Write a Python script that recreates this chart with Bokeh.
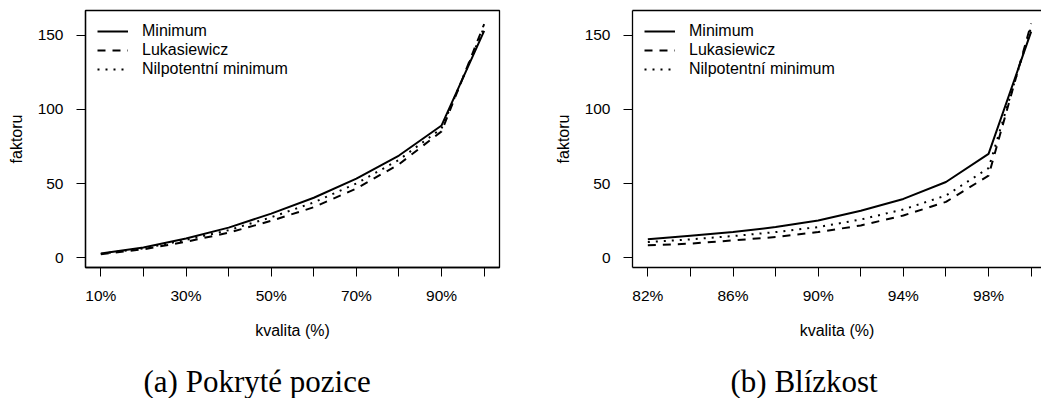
from bokeh.plotting import figure
from bokeh.layouts import row
from bokeh.models import Range1d, FixedTicker, LinearAxis, Legend, LegendItem, Title
from bokeh.embed import file_html
from bokeh.resources import INLINE

# ---------------- data ----------------
# panel (a) Pokryté pozice
xa = [10, 20, 30, 40, 50, 60, 70, 80, 90, 100]
a_minimum = [2.8, 6.8, 12.9, 20.2, 29.7, 40.4, 53.3, 68.9, 89.2, 153.0]
a_lukasiewicz = [2.2, 5.6, 10.7, 16.8, 24.8, 34.0, 46.6, 63.0, 85.2, 157.6]
a_nilpotent = [2.5, 6.2, 11.9, 18.5, 27.2, 37.2, 50.0, 66.0, 87.2, 155.5]
xa_ticks = [10, 20, 30, 40, 50, 60, 70, 80, 90, 100]
xa_ticklabels = ["10%", "", "30%", "", "50%", "", "70%", "", "90%", ""]

# panel (b) Blízkost
xb = [82, 84, 86, 88, 90, 92, 94, 96, 98, 100]
b_minimum = [12.3, 14.8, 17.2, 20.6, 25.0, 31.6, 39.6, 51.0, 70.0, 152.5]
b_lukasiewicz = [8.3, 9.4, 11.6, 13.9, 17.2, 21.7, 28.4, 37.6, 55.3, 158.0]
b_nilpotent = [10.5, 12.3, 14.5, 17.2, 20.6, 25.7, 32.5, 41.9, 60.4, 155.6]
xb_ticks = [82, 84, 86, 88, 90, 92, 94, 96, 98, 100]
xb_ticklabels = ["82%", "", "86%", "", "90%", "", "94%", "", "98%", ""]

y_ticks = [0, 50, 100, 150]
series_names = ["Minimum", "Lukasiewicz", "Nilpotentní minimum"]
x_title = "kvalita (%)"
y_title = "faktoru"
captions = ["(a) Pokryté pozice", "(b) Blízkost"]

SANS = "Liberation Sans"
SERIF = "Liberation Serif"
DASHES = ["solid", "8 7", "2 6"]


def make_panel(x, ys, ticks, ticklabels, xr, caption, cap_offset, width, bl, br,
               frame_right_edge):
    p = figure(width=width, height=398, output_backend="svg", toolbar_location=None,
               x_range=Range1d(*xr), y_range=Range1d(-6.7, 166.8),
               min_border_left=bl, min_border_right=br, min_border_top=10,
               min_border_bottom=130)
    p.grid.visible = False
    p.background_fill_color = "white"
    p.border_fill_color = "white"

    items = []
    for yv, name, dash in zip(ys, series_names, DASHES):
        r = p.line(x, yv, line_color="black", line_width=2, line_dash=dash)
        items.append(LegendItem(label=name, renderers=[r]))

    xa_ = p.below[0]
    xa_.ticker = FixedTicker(ticks=ticks)
    xa_.major_label_overrides = {t: l for t, l in zip(ticks, ticklabels)}
    xa_.axis_label = x_title
    ya_ = p.left[0]
    ya_.ticker = FixedTicker(ticks=y_ticks)
    ya_.axis_label = y_title
    for ax in (xa_, ya_):
        ax.minor_tick_line_color = None
        ax.major_tick_out = 9
        ax.major_tick_in = 0
        ax.axis_line_color = "black"
        ax.axis_line_width = 1.3
        ax.major_tick_line_color = "black"
        ax.major_tick_line_width = 1
        ax.major_label_text_font = SANS
        ax.major_label_text_font_size = "15.5px"
        ax.major_label_text_color = "black"
        ax.axis_label_text_font = SANS
        ax.axis_label_text_font_size = "16px"
        ax.axis_label_text_font_style = "normal"
        ax.axis_label_text_color = "black"
    xa_.major_label_standoff = 10
    xa_.axis_label_standoff = 15
    ya_.major_label_standoff = 13
    ya_.axis_label_standoff = 10

    if frame_right_edge:
        p.outline_line_color = "black"
        p.outline_line_width = 1.3
    else:
        p.outline_line_color = None
        top = LinearAxis(ticker=FixedTicker(ticks=[]), axis_line_color="black",
                         axis_line_width=1.3, major_tick_out=0, major_tick_in=0,
                         minor_tick_out=0, minor_tick_in=0, major_label_standoff=0)
        p.add_layout(top, "above")

    legend = Legend(items=items, location="top_left", border_line_color=None,
                    background_fill_alpha=0, margin=12, padding=4,
                    glyph_width=31, glyph_height=16, label_height=16, spacing=1,
                    label_standoff=14, label_text_font=SANS,
                    label_text_font_size="16px", label_text_color="black")
    p.add_layout(legend)

    spacer = Title(text=" ", text_font_size="1px", standoff=17)
    p.add_layout(spacer, "below")
    cap = Title(text=caption, align="left", offset=cap_offset, standoff=0,
                text_font=SERIF, text_font_size="31px", text_font_style="normal",
                text_color="black")
    p.add_layout(cap, "below")
    return p


pa = make_panel(xa, [a_minimum, a_lukasiewicz, a_nilpotent], xa_ticks, xa_ticklabels,
                (6.4, 103.6), captions[0], 58, 520, 85, 21, True)
pb = make_panel(xb, [b_minimum, b_lukasiewicz, b_nilpotent], xb_ticks, xb_ticklabels,
                (81.28, 100.486), captions[1], 98, 521, 112, 0, False)

layout = row(pa, pb)
open("out.html", "w").write(file_html(layout, INLINE))
